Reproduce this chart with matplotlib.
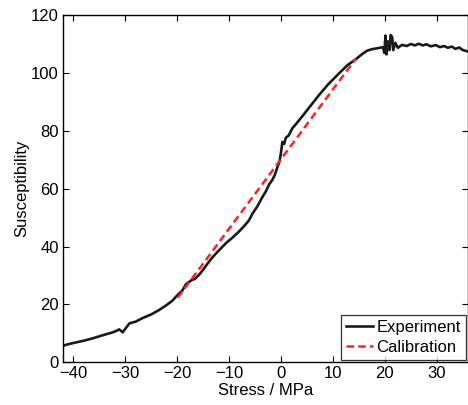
"""Susceptibility versus stress, experiment and calibration."""

import matplotlib
matplotlib.use('Agg')
import matplotlib.pyplot as plt

stress = [-42.0, -41.2, -39.5, -38.0, -36.3, -34.5, -32.4, -31.6, -31.2, -30.8,
          -30.5, -29.8, -29.2, -28.0, -26.7, -25.0, -23.5, -22.0, -20.9, -20.3,
          -19.6, -19.0, -18.3, -17.2, -16.6, -15.8, -15.0, -14.2, -13.2, -12.0,
          -10.6, -9.4, -8.1, -7.0, -6.2, -5.5, -4.6, -3.6, -2.9, -2.3, -1.7,
          -1.2, -0.7, -0.3, -0.06, 0.1, 0.25, 0.6, 0.9, 1.5, 1.9, 2.2, 2.6, 4.1,
          5.5, 7.3, 9.0, 11.2, 12.8, 14.4, 15.6, 16.6, 17.5, 18.8, 19.6, 19.9,
          20.1, 20.3, 20.6, 20.9, 21.1, 21.4, 21.6, 22.0, 22.5, 23.3, 24.2, 25.0,
          25.8, 26.5, 27.3, 28.0, 28.8, 29.8, 30.6, 31.4, 32.1, 32.9, 33.6, 34.3,
          35.0, 35.8]
susceptibility = [5.6, 6.1, 6.8, 7.4, 8.2, 9.2, 10.3, 10.9, 11.3, 10.8,
                  10.3, 12.0, 13.4, 14.0, 15.2, 16.5, 18.0, 19.8, 21.3, 22.5,
                  23.8, 24.8, 27.0, 28.4, 28.8, 30.2, 32.0, 34.0, 36.3, 38.6,
                  41.2, 43.0, 45.2, 47.3, 49.0, 51.4, 53.8, 57.1, 59.2, 61.5, 63.0,
                  64.8, 67.5, 69.5, 72.0, 74.0, 76.2, 75.5, 77.6, 78.5, 80.0, 81.0,
                  81.8, 85.1, 88.3, 92.4, 96.0, 100.0, 102.8, 104.8, 106.6, 107.8,
                  108.3, 108.7, 109.0, 107.0, 113.0, 106.5, 111.0, 108.0, 113.2,
                  112.5, 108.0, 110.5, 108.8, 109.8, 109.4, 110.1, 109.6, 110.2,
                  109.6, 110.0, 109.3, 109.7, 109.0, 109.4, 108.8, 109.2, 108.4,
                  108.9, 108.0, 107.6]

# Linear calibration line end points
calib_stress = [-19.9, 14.4]
calib_susc = [22.3, 105.0]

plt.rcParams['font.family'] = ['Liberation Sans', 'DejaVu Sans']

fig = plt.figure(figsize=(4.68, 4.05), dpi=100)
ax = fig.add_axes([0.1346, 0.106, 0.8654, 0.856])

ax.plot(stress, susceptibility, color='#1a1a1a', lw=1.9, label='Experiment')
ax.plot(calib_stress, calib_susc, color='#ff2020', lw=1.8, ls=(0, (3.0, 1.7)),
        label='Calibration')

ax.set_xlim(-42, 36)
ax.set_ylim(0, 120)
ax.set_xticks([-40, -30, -20, -10, 0, 10, 20, 30])
ax.set_yticks([0, 20, 40, 60, 80, 100, 120])
ax.tick_params(direction='in', top=True, right=True, labelsize=12,
               length=4, width=0.8, pad=3)
for side in ax.spines.values():
    side.set_linewidth(1.0)

ax.set_xlabel('Stress / MPa', fontsize=12, labelpad=1.5)
ax.set_ylabel('Susceptibility', fontsize=12, labelpad=1)

leg = ax.legend(loc='lower right', fontsize=12, frameon=True, fancybox=False,
                edgecolor='black', handlelength=1.6, handletextpad=0.2,
                borderpad=0.3, labelspacing=0.3, borderaxespad=0.15)
leg.get_frame().set_linewidth(0.9)

fig.savefig('out.png', dpi=100)
